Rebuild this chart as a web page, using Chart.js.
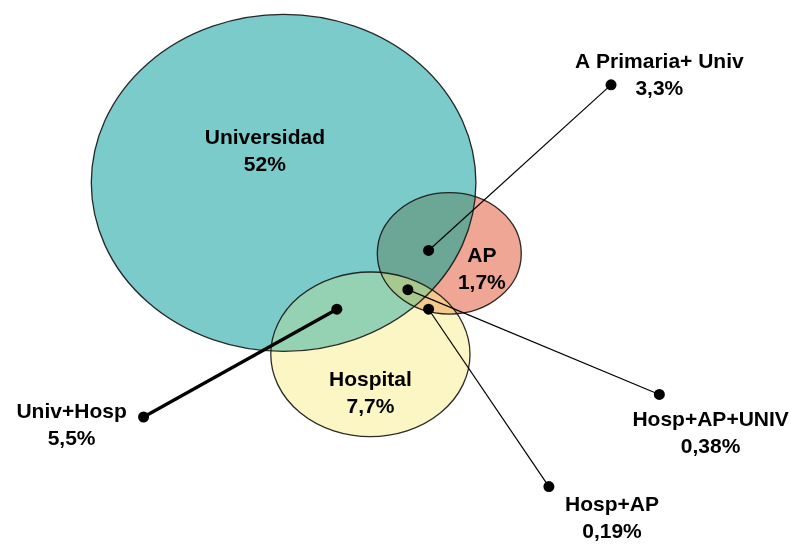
<!DOCTYPE html>
<html>
<head>
<meta charset="utf-8">
<script src="https://cdn.jsdelivr.net/npm/chart.js@4"></script>
<style>
  body { margin: 0; background: #fff; }
  #wrap { width: 797px; height: 544px; position: relative; }
</style>
</head>
<body>
<div id="wrap"><canvas id="myChart"></canvas></div>
<script>
const ctx = document.getElementById('myChart').getContext('2d');

// sets of the diagram (center and radii in chart units)
const setNames = ['Universidad', 'AP', 'Hospital'];
const setValues = ['52%', '1,7%', '7,7%'];
const setCenterX = [282, 450, 370];
const setCenterY = [181, 253, 356];
const setRadiusX = [195, 73, 101];
const setRadiusY = [172, 62, 84];

// overlap callouts
const calloutNames = ['A Primaria+ Univ', 'Univ+Hosp', 'Hosp+AP+UNIV', 'Hosp+AP'];
const calloutValues = ['3,3%', '5,5%', '0,38%', '0,19%'];
const calloutFromX = [429, 336, 408, 429];
const calloutFromY = [250, 310, 290, 310];
const calloutToX = [614, 140, 663, 551];
const calloutToY = [81, 420, 397, 491];

// where the texts go
const setLabelX = [263, 483, 370];
const setLabelY = [135, 256, 382];
const calloutLabelX = [663, 67, 715, 615];
const calloutLabelY = [58, 415, 423, 510];

const setColors = ['#7bcbcb', '#efa694', '#fbf6c3'];
// colours of the overlapping parts
const overlapColors = {
    'U+A': '#6ca795',
    'U+H': '#95d2b4',
    'A+H': '#f5c98b',
    'U+A+H': '#a8c98d'
};

function ellipsePath(c, chart, i) {
    const xs = chart.scales.x, ys = chart.scales.y;
    const cx = xs.getPixelForValue(setCenterX[i]);
    const cy = ys.getPixelForValue(setCenterY[i]);
    const rx = Math.abs(xs.getPixelForValue(setCenterX[i] + setRadiusX[i]) - cx);
    const ry = Math.abs(ys.getPixelForValue(setCenterY[i] + setRadiusY[i]) - cy);
    c.beginPath();
    c.ellipse(cx, cy, rx, ry, 0, 0, Math.PI * 2);
}

function fillOverlap(c, chart, sets, color) {
    c.save();
    for (let k = 0; k < sets.length; k++) {
        ellipsePath(c, chart, sets[k]);
        c.clip();
    }
    ellipsePath(c, chart, sets[0]);
    c.fillStyle = color;
    c.fill();
    c.restore();
}

const vennPlugin = {
    id: 'venn',
    beforeDatasetsDraw(chart) {
        const c = chart.ctx;
        c.save();
        for (let i = 0; i < setNames.length; i++) {
            ellipsePath(c, chart, i);
            c.fillStyle = setColors[i];
            c.fill();
        }
        fillOverlap(c, chart, [0, 1], overlapColors['U+A']);
        fillOverlap(c, chart, [0, 2], overlapColors['U+H']);
        fillOverlap(c, chart, [1, 2], overlapColors['A+H']);
        fillOverlap(c, chart, [0, 1, 2], overlapColors['U+A+H']);
        c.lineWidth = 1.3;
        c.strokeStyle = 'rgba(20,20,20,0.9)';
        for (let i = 0; i < setNames.length; i++) {
            ellipsePath(c, chart, i);
            c.stroke();
        }
        c.restore();
    },
    afterDatasetsDraw(chart) {
        const c = chart.ctx;
        const xs = chart.scales.x, ys = chart.scales.y;
        c.save();
        c.font = 'bold 21px "Liberation Sans", Arial, sans-serif';
        c.fillStyle = '#000';
        c.textAlign = 'center';
        c.textBaseline = 'middle';
        function twoLines(text1, text2, x, y) {
            const px = xs.getPixelForValue(x);
            const py = ys.getPixelForValue(y);
            c.fillText(text1, px, py);
            c.fillText(text2, px, py + 27);
        }
        for (let i = 0; i < setNames.length; i++) {
            twoLines(setNames[i], setValues[i], setLabelX[i], setLabelY[i]);
        }
        for (let i = 0; i < calloutNames.length; i++) {
            twoLines(calloutNames[i], calloutValues[i], calloutLabelX[i], calloutLabelY[i]);
        }
        c.restore();
    }
};

let datasets = [];
for (let i = 0; i < calloutNames.length; i++) {
    datasets.push({
        label: calloutNames[i],
        data: [
            { x: calloutFromX[i], y: calloutFromY[i] },
            { x: calloutToX[i], y: calloutToY[i] }
        ],
        showLine: true,
        borderColor: '#000',
        backgroundColor: '#000',
        borderWidth: calloutNames[i] == 'Univ+Hosp' ? 3.2 : 1.2,
        pointRadius: 5.5,
        pointBorderWidth: 0,
        clip: false
    });
}

const myChart = new Chart(ctx, {
    type: 'scatter',
    data: { datasets: datasets },
    options: {
        responsive: true,
        maintainAspectRatio: false,
        animation: false,
        layout: { padding: 0 },
        plugins: {
            legend: { display: false },
            tooltip: { enabled: false }
        },
        scales: {
            x: { type: 'linear', min: 0, max: 797, display: false },
            y: { type: 'linear', min: 0, max: 544, reverse: true, display: false }
        }
    },
    plugins: [vennPlugin]
});
</script>
</body>
</html>
